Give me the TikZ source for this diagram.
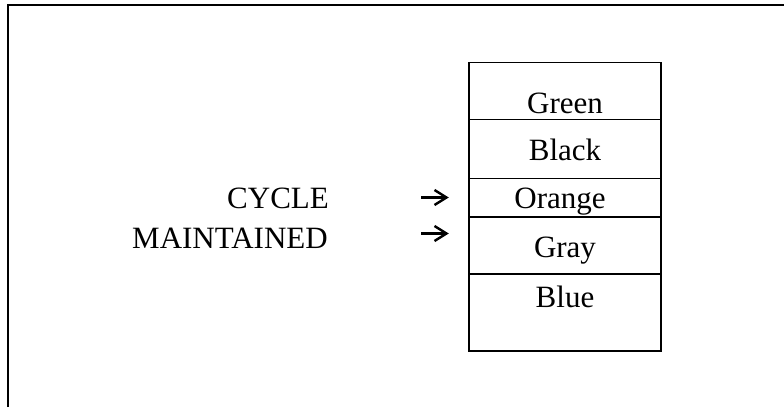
\documentclass[tikz,border=0pt]{standalone}
\usepackage{fontspec}
\setmainfont{Liberation Serif}
\begin{document}
\begin{tikzpicture}[x=1pt,y=-1pt,
  txt/.style={inner sep=0pt,font=\fontsize{31}{37}\selectfont},
  frameline/.style={line width=2pt,black},
  boxline/.style={line width=1.6pt,black},
  arrowline/.style={line width=2.4pt,black,line cap=butt,line join=miter}]
\useasboundingbox (0,0) rectangle (784,407);
% outer frame (top and left only)
\draw[frameline] (8,407) -- (8,4.6) -- (784,4.6);
% stack box
\draw[boxline] (469,62.3) rectangle (661,350.7);
\draw[boxline] (469,119.3) -- (661,119.3);
\draw[boxline] (469,178.3) -- (661,178.3);
\draw[boxline] (469,216.7) -- (661,216.7);
\draw[boxline] (469,274) -- (661,274);
% stack entries
\node[txt,anchor=base] (green) at (565,113) {Green};
\node[txt,anchor=base] (black) at (565,160) {Black};
\node[txt,anchor=base] (orange) at (560,208) {Orange};
\node[txt,anchor=base] (gray) at (565,257) {Gray};
\node[txt,anchor=base] (blue) at (565,307) {Blue};
% labels
\node[txt,anchor=base west] (cycle) at (227,208) {CYCLE};
\node[txt,anchor=base west] (maint) at (132,248) {MAINTAINED};
% arrows
\coordinate (a1s) at (421,197.5);
\coordinate (a1e) at (446.5,197.5);
\coordinate (a2s) at (421,233.5);
\coordinate (a2e) at (446.5,233.5);
\draw[arrowline] (a1s) -- (a1e);
\draw[arrowline] ([xshift=-12pt,yshift=-7.5pt]a1e) -- (a1e) -- ([xshift=-12pt,yshift=7.5pt]a1e);
\draw[arrowline] (a2s) -- (a2e);
\draw[arrowline] ([xshift=-12pt,yshift=-7.5pt]a2e) -- (a2e) -- ([xshift=-12pt,yshift=7.5pt]a2e);
\end{tikzpicture}
\end{document}
